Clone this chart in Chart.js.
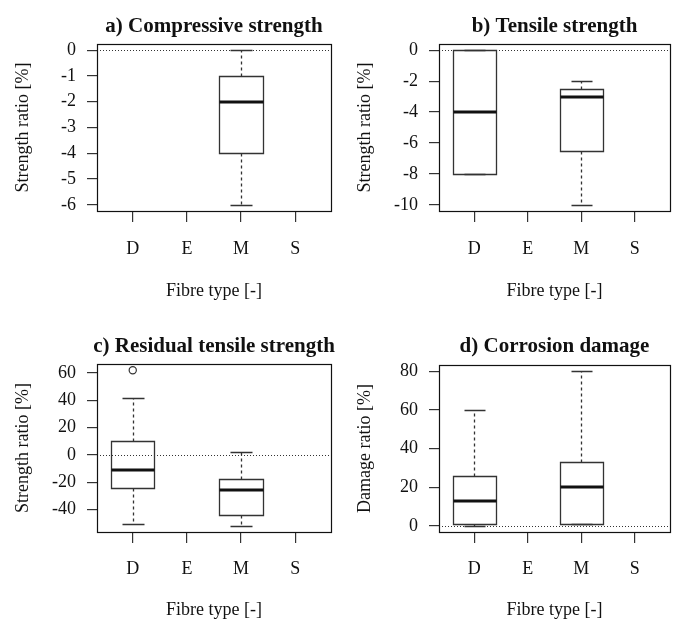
<!DOCTYPE html>
<html><head><meta charset="utf-8">
<script src="https://cdn.jsdelivr.net/npm/chart.js@4"></script>
<style>
html,body{margin:0;padding:0;background:#fff;}
#wrap{position:relative;width:673px;height:621px;background:#fff;}
.cell{position:absolute;}
canvas{display:block;}
</style></head><body>
<div id="wrap">
  <div class="cell" style="left:0;top:0;"><canvas id="pa" width="336" height="310"></canvas></div>
  <div class="cell" style="left:336px;top:0;"><canvas id="pb" width="337" height="310"></canvas></div>
  <div class="cell" style="left:0;top:310px;"><canvas id="pc" width="336" height="311"></canvas></div>
  <div class="cell" style="left:336px;top:310px;"><canvas id="pd" width="337" height="311"></canvas></div>
</div>
<script>
// ---------- data ----------
const categories = ['D', 'E', 'M', 'S'];
const categoryPositions = [1, 2, 3, 4];

// a) Compressive strength — box statistics per fibre type (null = no data)
const compLower  = [null, null, -6, null];
const compQ1     = [null, null, -4, null];
const compMedian = [null, null, -2, null];
const compQ3     = [null, null, -1, null];
const compUpper  = [null, null,  0, null];
const compOutCat = [];
const compOutVal = [];
const compTicks  = [-6, -5, -4, -3, -2, -1, 0];

// b) Tensile strength
const tensLower  = [-8,  null, -10,  null];
const tensQ1     = [-8,  null, -6.5, null];
const tensMedian = [-4,  null, -3,   null];
const tensQ3     = [0,   null, -2.5, null];
const tensUpper  = [0,   null, -2,   null];
const tensOutCat = [];
const tensOutVal = [];
const tensTicks  = [-10, -8, -6, -4, -2, 0];

// c) Residual tensile strength
const resLower  = [-51, null, -52, null];
const resQ1     = [-24, null, -44, null];
const resMedian = [-11, null, -26, null];
const resQ3     = [10,  null, -18, null];
const resUpper  = [42,  null, 2,   null];
const resOutCat = ['D'];
const resOutVal = [62];
const resTicks  = [-40, -20, 0, 20, 40, 60];

// d) Corrosion damage
const corrLower  = [0,  null, 1,  null];
const corrQ1     = [1,  null, 1,  null];
const corrMedian = [13, null, 20, null];
const corrQ3     = [26, null, 33, null];
const corrUpper  = [60, null, 80, null];
const corrOutCat = [];
const corrOutVal = [];
const corrTicks  = [0, 20, 40, 60, 80];

const referenceValue = 0;

// ---------- drawing ----------
const FONT = '"Liberation Serif", "Times New Roman", Times, serif';
const INK = '#111';
const LINE = '#333';

function makeBoxPlugin(p) {
  return {
    id: 'rboxplot',
    beforeDatasetsDraw(chart) {
      const {ctx, scales: {x, y}} = chart;
      ctx.save();
      const a = v => Math.round(v) + 0.5;
      for (let i = 0; i < categories.length; i++) {
        if (p.q1[i] == null) continue;
        const pos = categoryPositions[i];
        const xc = x.getPixelForValue(pos);
        const xl = x.getPixelForValue(pos - 0.4), xr = x.getPixelForValue(pos + 0.4);
        const sl = x.getPixelForValue(pos - 0.2), sr = x.getPixelForValue(pos + 0.2);
        const yLo = y.getPixelForValue(p.lower[i]);
        const yQ1 = y.getPixelForValue(p.q1[i]);
        const yMed = y.getPixelForValue(p.median[i]);
        const yQ3 = y.getPixelForValue(p.q3[i]);
        const yHi = y.getPixelForValue(p.upper[i]);
        ctx.strokeStyle = LINE;
        ctx.lineWidth = 1.3;
        // whiskers (dashed)
        ctx.setLineDash([3, 3]);
        ctx.beginPath();
        ctx.moveTo(a(xc), a(yQ1)); ctx.lineTo(a(xc), a(yLo));
        ctx.moveTo(a(xc), a(yQ3)); ctx.lineTo(a(xc), a(yHi));
        ctx.stroke();
        ctx.setLineDash([]);
        // staples
        ctx.beginPath();
        ctx.moveTo(a(sl), a(yLo)); ctx.lineTo(a(sr), a(yLo));
        ctx.moveTo(a(sl), a(yHi)); ctx.lineTo(a(sr), a(yHi));
        ctx.stroke();
        // box
        ctx.beginPath();
        ctx.rect(a(xl), a(yQ3), Math.round(xr) - Math.round(xl), Math.round(yQ1) - Math.round(yQ3));
        ctx.stroke();
        // median
        ctx.strokeStyle = INK;
        ctx.lineWidth = 3;
        ctx.beginPath();
        ctx.moveTo(a(xl), Math.round(yMed)); ctx.lineTo(a(xr), Math.round(yMed));
        ctx.stroke();
      }
      ctx.restore();
    },
    afterDatasetsDraw(chart) {
      const {ctx, chartArea: ca, scales: {y}} = chart;
      ctx.save();
      ctx.beginPath();
      ctx.rect(ca.left, ca.top, ca.right - ca.left, ca.bottom - ca.top);
      ctx.clip();
      const y0 = Math.round(y.getPixelForValue(referenceValue)) + 0.5;
      ctx.strokeStyle = LINE;
      ctx.lineWidth = 1;
      ctx.setLineDash([1, 2]);
      ctx.beginPath();
      ctx.moveTo(ca.left, y0); ctx.lineTo(ca.right, y0);
      ctx.stroke();
      ctx.restore();
    },
    afterDraw(chart) {
      const {ctx, chartArea: ca} = chart;
      ctx.save();
      ctx.strokeStyle = INK;
      ctx.lineWidth = 1.2;
      ctx.strokeRect(Math.round(ca.left) + 0.5, Math.round(ca.top) + 0.5,
        Math.round(ca.right) - Math.round(ca.left), Math.round(ca.bottom) - Math.round(ca.top));
      ctx.fillStyle = INK;
      ctx.font = 'bold 21px ' + FONT;
      ctx.textAlign = 'center';
      ctx.textBaseline = 'alphabetic';
      ctx.fillText(p.title, (ca.left + ca.right) / 2, p.titleBaseline);
      ctx.restore();
    }
  };
}

function makePanel(id, p) {
  const vals = [].concat(p.lower, p.upper, p.outVal).filter(v => v != null);
  const lo = Math.min(...vals), hi = Math.max(...vals);
  const pad = (hi - lo) * 0.04;
  const outliers = p.outCat.map((c, k) => ({x: categoryPositions[categories.indexOf(c)], y: p.outVal[k]}));
  return new Chart(document.getElementById(id), {
    type: 'scatter',
    data: {
      datasets: [{
        data: outliers,
        pointStyle: 'circle',
        pointRadius: 3.6,
        pointHoverRadius: 3.6,
        backgroundColor: 'rgba(0,0,0,0)',
        borderColor: LINE,
        borderWidth: 1.2,
        showLine: false
      }]
    },
    options: {
      responsive: false,
      animation: false,
      devicePixelRatio: 1,
      events: [],
      layout: {padding: {left: 0, top: p.top, right: p.right, bottom: 0}},
      plugins: {
        legend: {display: false},
        tooltip: {enabled: false},
        title: {display: false}
      },
      scales: {
        x: {
          type: 'linear',
          position: 'bottom',
          min: 0.34,
          max: 4.66,
          afterBuildTicks: s => { s.ticks = categoryPositions.map(v => ({value: v})); },
          afterFit: s => { s.height = p.xAxisH; },
          ticks: {
            callback: v => categories[categoryPositions.indexOf(v)],
            padding: p.xTickPad,
            color: INK,
            font: {family: FONT, size: 18},
            maxRotation: 0,
            autoSkip: false
          },
          grid: {drawOnChartArea: false, drawTicks: true, tickLength: 11, color: LINE, lineWidth: 1.2},
          border: {display: false},
          title: {
            display: true,
            text: 'Fibre type [-]',
            color: INK,
            font: {family: FONT, size: 18},
            padding: {top: 0, bottom: p.xTitlePad}
          }
        },
        y: {
          type: 'linear',
          position: 'left',
          min: lo - pad,
          max: hi + pad,
          afterBuildTicks: s => { s.ticks = p.ticks.map(v => ({value: v})); },
          afterFit: s => { s.width = p.yAxisW; },
          ticks: {
            callback: v => String(v),
            padding: 11,
            color: INK,
            font: {family: FONT, size: 18},
            autoSkip: false
          },
          grid: {drawOnChartArea: false, drawTicks: true, tickLength: 10, color: LINE, lineWidth: 1.2},
          border: {display: false},
          title: {
            display: true,
            text: p.yTitle,
            color: INK,
            font: {family: FONT, size: 18},
            padding: {top: p.yTitlePad, bottom: 0}
          }
        }
      }
    },
    plugins: [makeBoxPlugin(p)]
  });
}

makePanel('pa', {
  title: 'a) Compressive strength', yTitle: 'Strength ratio [%]',
  lower: compLower, q1: compQ1, median: compMedian, q3: compQ3, upper: compUpper,
  outCat: compOutCat, outVal: compOutVal, ticks: compTicks,
  top: 44, right: 5, yAxisW: 97, xAxisH: 99, xTickPad: 16, xTitlePad: 8, yTitlePad: 12, titleBaseline: 31.5
});
makePanel('pb', {
  title: 'b) Tensile strength', yTitle: 'Strength ratio [%]',
  lower: tensLower, q1: tensQ1, median: tensMedian, q3: tensQ3, upper: tensUpper,
  outCat: tensOutCat, outVal: tensOutVal, ticks: tensTicks,
  top: 44, right: 3, yAxisW: 103, xAxisH: 99, xTickPad: 16, xTitlePad: 8, yTitlePad: 18.5, titleBaseline: 31.5
});
makePanel('pc', {
  title: 'c) Residual tensile strength', yTitle: 'Strength ratio [%]',
  lower: resLower, q1: resQ1, median: resMedian, q3: resQ3, upper: resUpper,
  outCat: resOutCat, outVal: resOutVal, ticks: resTicks,
  top: 54, right: 5, yAxisW: 97, xAxisH: 89, xTickPad: 15, xTitlePad: 0, yTitlePad: 12.5, titleBaseline: 41.5
});
makePanel('pd', {
  title: 'd) Corrosion damage', yTitle: 'Damage ratio [%]',
  lower: corrLower, q1: corrQ1, median: corrMedian, q3: corrQ3, upper: corrUpper,
  outCat: corrOutCat, outVal: corrOutVal, ticks: corrTicks,
  top: 55, right: 3, yAxisW: 103, xAxisH: 89, xTickPad: 15, xTitlePad: 0, yTitlePad: 18.5, titleBaseline: 41.5
});
</script>
</body></html>
